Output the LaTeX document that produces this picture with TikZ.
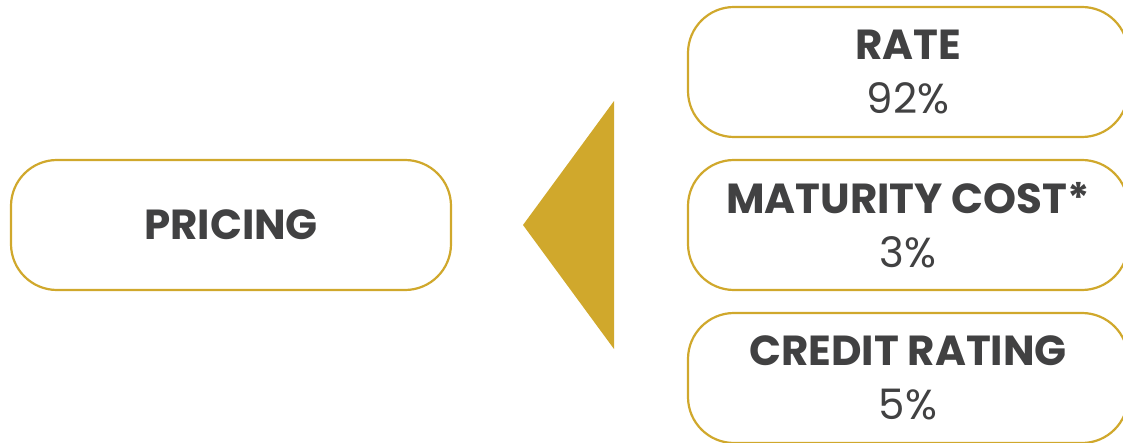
\documentclass[tikz,border=0pt]{standalone}
\usepackage{fontspec}
\setmainfont{Poppins}
\usetikzlibrary{positioning}
\definecolor{gold}{HTML}{D0A82C}
\definecolor{ink}{HTML}{414142}
\tikzset{
  pill/.style={draw=gold, line width=2.2pt, rounded corners=46pt, fill=white,
               minimum width=440pt, minimum height=130pt, align=center,
               text=ink, font=\fontsize{42}{54}\selectfont},
  hd/.style={font=\bfseries},
}
\begin{document}
\begin{tikzpicture}[x=1pt,y=-1pt]
    \useasboundingbox (0,0) rectangle (1123,443);
    \clip (0,0) rectangle (1123,443);
    \node[pill] (pricing) at (231,225) {\textbf{PRICING}};
    \node[pill] (rate) at (908,72) {\textbf{RATE}\\92\%};
    \node[pill] (maturity) at (908,225) {\textbf{MATURITY COST*}\\3\%};
    \node[pill] (credit) at (908,378) {\textbf{CREDIT RATING}\\5\%};
    % pointer from the factors to pricing
    \coordinate (tip) at (523,225);
    \coordinate (top) at (614,101);
    \coordinate (bot) at (614,349);
    \fill[gold] (tip) -- (top) -- (bot) -- cycle;
  \end{tikzpicture}
\end{document}
